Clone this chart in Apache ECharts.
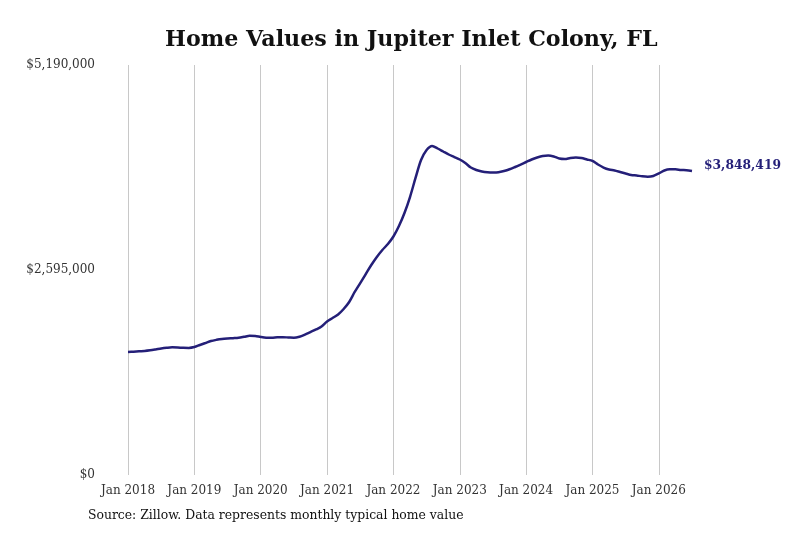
<!DOCTYPE html>
<html>
<head>
<meta charset="utf-8">
<script src="https://cdn.jsdelivr.net/npm/echarts@6/dist/echarts.min.js"></script>
<style>html,body{margin:0;padding:0;background:#fff}#c{width:800px;height:533px}</style>
</head>
<body>
<div id="c"></div>
<script>
var years = [2018, 2019, 2020, 2021, 2022, 2023, 2024, 2025, 2026];
var monthNames = ['Jan','Feb','Mar','Apr','May','Jun','Jul','Aug','Sep','Oct','Nov','Dec'];
var values2018 = [1557000,1561000,1566000,1570000,1578000,1589000,1601000,1610000,1616000,1614000,1610000,1609000];
var values2019 = [1620000,1646000,1671000,1696000,1711000,1722000,1728000,1732000,1737000,1749000,1762000,1760000];
var values2020 = [1747000,1738000,1737000,1743000,1744000,1741000,1738000,1751000,1778000,1810000,1842000,1880000];
var values2021 = [1943000,1987000,2032000,2101000,2190000,2317000,2430000,2544000,2658000,2760000,2848000,2924000];
var values2022 = [3019000,3152000,3317000,3519000,3760000,3987000,4114000,4165000,4133000,4095000,4057000,4025000];
var values2023 = [3994000,3949000,3892000,3861000,3842000,3832000,3829000,3832000,3848000,3870000,3899000,3930000];
var values2024 = [3962000,3994000,4019000,4038000,4044000,4032000,4006000,4000000,4013000,4019000,4013000,3994000];
var values2025 = [3975000,3930000,3892000,3867000,3855000,3836000,3817000,3798000,3791000,3781000,3776000,3785000];
var values2026 = [3817000,3855000,3870000,3870000,3861000,3858000,3848419];
var yTicks = [0, 2595000, 5190000];

var allValues = [].concat(values2018, values2019, values2020, values2021, values2022, values2023, values2024, values2025, values2026);
var categories = [];
for (var i = 0; i < allValues.length; i++) {
  var y = years[0] + Math.floor(i / 12);
  categories.push(monthNames[i % 12] + ' ' + y);
}
function money(v){ return '$' + Math.round(v).toLocaleString('en-US'); }

var serif = 'DejaVu Serif, serif';
var chart = echarts.init(document.getElementById('c'), null, {renderer:'canvas'});
chart.setOption({
  animation: false,
  backgroundColor: '#fff',
  title: {
    text: 'Home Values in Jupiter Inlet Colony, FL',
    left: 160, top: 24,
    textStyle: {fontFamily: serif, fontWeight: 'bold', fontSize: 22.2, color: '#111'}
  },
  graphic: [{
    type: 'text', left: 88, top: 510,
    style: {text: 'Source: Zillow. Data represents monthly typical home value', font: '12.4px ' + serif, fill: '#111'}
  }],
  grid: {left: 128, right: 108, top: 65, bottom: 58},
  xAxis: {
    type: 'category', data: categories, boundaryGap: false,
    axisLine: {show: false}, axisTick: {show: false},
    axisLabel: {
      interval: function(i){ return i % 12 === 0; },
      color: '#333', fontFamily: serif, fontSize: 12, margin: 10
    },
    splitLine: {show: true, interval: function(i){ return i % 12 === 0; }, lineStyle: {color: '#c8c8c8', width: 1}}
  },
  yAxis: {
    type: 'value', min: yTicks[0], max: yTicks[2], interval: yTicks[1],
    axisLine: {show: false}, axisTick: {show: false}, splitLine: {show: false},
    axisLabel: {formatter: money, color: '#333', fontFamily: serif, fontSize: 12, margin: 33, verticalAlign: 'middle'}
  },
  series: [{
    type: 'line', data: allValues, showSymbol: false, smooth: 0.3,
    lineStyle: {color: '#241f78', width: 2.5},
    endLabel: {
      show: true, formatter: function(p){ return money(p.value); },
      color: '#241f78', fontFamily: serif, fontWeight: 'bold', fontSize: 12.3, distance: 12, offset: [0, -5]
    }
  }]
});
</script>
</body>
</html>
